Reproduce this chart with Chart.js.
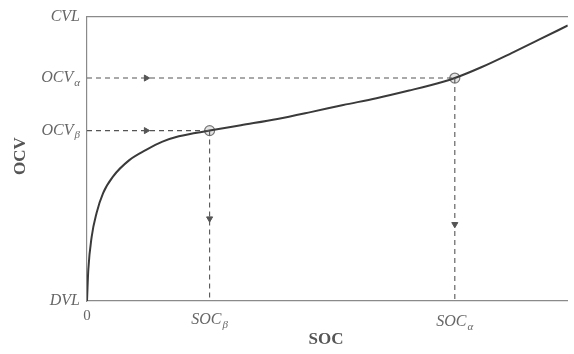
<!DOCTYPE html>
<html>
<head>
<meta charset="utf-8">
<script src="https://cdn.jsdelivr.net/npm/chart.js@4.4.1/dist/chart.umd.min.js"></script>
<style>
  html, body { margin:0; padding:0; background:#fff; overflow:hidden; }
  canvas { display:block; }
</style>
</head>
<body>
<canvas id="ocvChart" width="574" height="354"></canvas>
<script>
// OCV-SOC curve, values (SOC 0..100, OCV 0..100 between DVL and CVL)
const curveSoc = [0, 0.27, 0.97, 1.99, 3.35, 5.4, 8.8, 12.3, 15.7, 19.1, 25.5, 32, 39.6, 46.5, 53.3, 60.2, 67, 73.9, 76.5, 82, 88.3, 94, 100];
const curveOcv = [0, 10.9, 22.6, 31, 38, 43.8, 49.6, 53.2, 56.1, 58, 60, 61.9, 64.1, 66.5, 69, 71.4, 74.1, 77.1, 78.5, 82.3, 87.3, 92, 97];

const socTicks = [0, 25.5, 76.5];
const socNames = ['0', 'SOC', 'SOC'];
const socSubs  = ['', 'β', 'α'];

const ocvTicks = [0, 60, 78.5, 100];
const ocvNames = ['DVL', 'OCV', 'OCV', 'CVL'];
const ocvSubs  = ['', 'β', 'α', ''];

// marked operating points (beta, alpha)
const markSoc = [25.5, 76.5];
const markOcv = [60, 78.5];

// arrow heads on the dashed guide lines
const arrowRightSoc = [12.3, 12.3];
const arrowDownOcv = [29, 27];

const AXIS = '#8a8a8a', INK = '#3a3a3a', DASH = '#555';
const pts = (xs, ys) => xs.map((x, i) => ({x: x, y: ys[i]}));

const guide = (data) => ({
  type: 'line', data: data, borderColor: DASH, borderWidth: 1.1,
  borderDash: [5, 4], pointRadius: 0, fill: false, tension: 0
});

const labelPlugin = {
  id: 'labels',
  afterDraw(chart) {
    const ctx = chart.ctx, sx = chart.scales.x, sy = chart.scales.y;
    const big = 'italic 16px "Liberation Serif", "DejaVu Serif", serif';
    const small = 'italic 11px "Liberation Serif", "DejaVu Serif", serif';
    ctx.save();
    ctx.fillStyle = '#666';
    ctx.textBaseline = 'middle';
    ctx.textAlign = 'left';
    // y tick labels, right edge at x=80
    ocvTicks.forEach((v, i) => {
      const py = sy.getPixelForValue(v);
      ctx.font = big; const w1 = ctx.measureText(ocvNames[i]).width;
      ctx.font = small; const w2 = ocvSubs[i] ? ctx.measureText(ocvSubs[i]).width + 1 : 0;
      const x0 = 80 - w1 - w2;
      ctx.font = big; ctx.fillText(ocvNames[i], x0, py);
      if (ocvSubs[i]) { ctx.font = small; ctx.fillText(ocvSubs[i], x0 + w1 + 1, py + 5); }
    });
    // x tick labels
    socTicks.forEach((v, i) => {
      const px = sx.getPixelForValue(v);
      const py = i === 0 ? 316 : 320 + (i === 2 ? 2 : 0);
      ctx.font = i === 0 ? '15px "Liberation Serif", serif' : big;
      const w1 = ctx.measureText(socNames[i]).width;
      ctx.font = small; const w2 = socSubs[i] ? ctx.measureText(socSubs[i]).width + 1 : 0;
      const x0 = px - (w1 + w2) / 2;
      ctx.font = i === 0 ? '15px "Liberation Serif", serif' : big;
      ctx.fillText(socNames[i], x0, py);
      if (socSubs[i]) { ctx.font = small; ctx.fillText(socSubs[i], x0 + w1 + 1, py + 5); }
    });
    // axis titles
    ctx.fillStyle = '#555';
    ctx.font = 'bold 17px "Liberation Serif", "DejaVu Serif", serif';
    ctx.textAlign = 'center';
    ctx.fillText('SOC', 326, 340);
    ctx.translate(21, 156);
    ctx.rotate(-Math.PI / 2);
    ctx.fillText('OCV', 0, 0);
    ctx.restore();
  }
};

new Chart(document.getElementById('ocvChart'), {
  type: 'scatter',
  data: {
    datasets: [
      guide([{x: 0, y: markOcv[1]}, {x: markSoc[1], y: markOcv[1]}]),
      guide([{x: 0, y: markOcv[0]}, {x: markSoc[0], y: markOcv[0]}]),
      guide([{x: markSoc[0], y: markOcv[0]}, {x: markSoc[0], y: 0}]),
      guide([{x: markSoc[1], y: markOcv[1]}, {x: markSoc[1], y: 0}]),
      {
        type: 'line', data: pts(curveSoc, curveOcv), borderColor: INK, borderWidth: 2,
        pointRadius: 0, fill: false, cubicInterpolationMode: 'monotone'
      },
      {
        data: pts(arrowRightSoc, [markOcv[1], markOcv[0]]), pointStyle: 'triangle',
        rotation: 90, radius: 3.5, backgroundColor: DASH, borderColor: DASH, borderWidth: 1
      },
      {
        data: pts(markSoc, arrowDownOcv), pointStyle: 'triangle',
        rotation: 180, radius: 3.5, backgroundColor: DASH, borderColor: DASH, borderWidth: 1
      },
      {
        data: pts(markSoc, markOcv), pointStyle: 'circle', radius: 5,
        backgroundColor: '#e4e4e4', borderColor: '#777', borderWidth: 1.2
      },
      {
        data: pts(markSoc, markOcv), pointStyle: 'crossRot', radius: 4,
        borderColor: '#777', borderWidth: 1.2
      }
    ]
  },
  options: {
    responsive: false,
    animation: false,
    events: [],
    layout: { padding: { top: 17, right: 0, left: 0, bottom: 0 } },
    plugins: { legend: { display: false }, tooltip: { enabled: false } },
    scales: {
      x: {
        type: 'linear', min: 0, max: 100,
        grid: { display: false },
        border: { color: AXIS, width: 1.2 },
        ticks: { display: false },
        afterFit: s => { s.height = 53; }
      },
      x2: {
        type: 'linear', position: 'top', min: 0, max: 100,
        grid: { display: false },
        border: { color: AXIS, width: 1.2 },
        ticks: { display: false },
        afterFit: s => { s.height = 0; }
      },
      y: {
        min: 0, max: 100,
        grid: { display: false },
        border: { color: AXIS, width: 1.2 },
        ticks: { display: false },
        afterFit: s => { s.width = 87; }
      }
    }
  },
  plugins: [labelPlugin]
});
</script>
</body>
</html>
